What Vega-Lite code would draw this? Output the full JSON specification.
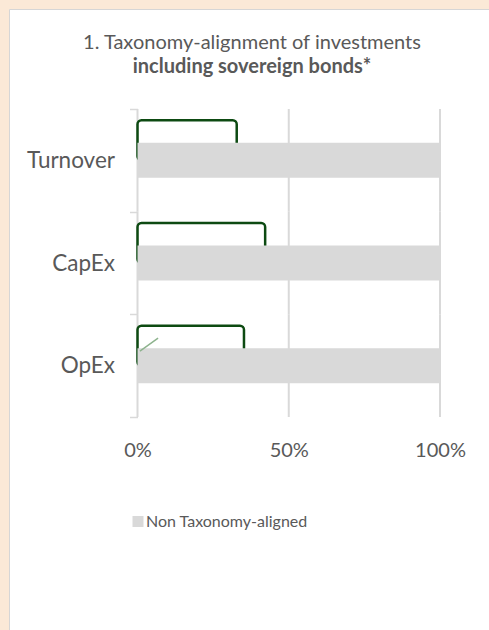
{
  "$schema": "https://vega.github.io/schema/vega-lite/v6.json",
  "width": 480,
  "height": 621,
  "autosize": {"type": "none"},
  "padding": {"left": 9, "top": 9, "right": 0, "bottom": 0},
  "background": "#FBE9D7",
  "config": {
    "font": "Lato",
    "view": {"fill": "#ffffff", "stroke": "#d6d6d6", "strokeWidth": 1}
  },
  "title": {
    "text": "1. Taxonomy-alignment of investments",
    "subtitle": "including sovereign bonds*",
    "font": "Lato",
    "fontSize": 20,
    "fontWeight": "normal",
    "color": "#595959",
    "subtitleFont": "Lato",
    "subtitleFontSize": 20,
    "subtitleFontWeight": "bold",
    "subtitleColor": "#595959",
    "subtitlePadding": 4,
    "anchor": "middle",
    "frame": "group",
    "offset": -79,
    "dx": 3
  },
  "data": {
    "values": [
      {"activity": "Turnover", "series": "Non Taxonomy-aligned", "value": 100, "bracket": 32.8},
      {"activity": "CapEx", "series": "Non Taxonomy-aligned", "value": 100, "bracket": 42.2},
      {"activity": "OpEx", "series": "Non Taxonomy-aligned", "value": 100, "bracket": 35.2}
    ]
  },
  "encoding": {
    "y": {
      "field": "activity",
      "type": "nominal",
      "sort": null,
      "scale": {"range": [100, 408], "paddingInner": 0, "paddingOuter": 0, "round": false},
      "axis": {
        "title": null,
        "offset": -128.5,
        "domain": false,
        "ticks": true,
        "tickBand": "extent",
        "tickSize": 8,
        "tickColor": "#d9d9d9",
        "tickWidth": 1.5,
        "labelFont": "Lato",
        "labelFontSize": 22.5,
        "labelColor": "#595959",
        "labelPadding": 15,
        "grid": false
      }
    }
  },
  "layer": [
    {
      "mark": {"type": "bar", "height": {"band": 1}, "fillOpacity": 0, "stroke": "#d9d9d9", "strokeWidth": 2},
      "encoding": {
        "x": {
          "datum": 0,
          "type": "quantitative",
          "scale": {"domain": [0, 100], "range": [128.5, 431], "nice": false, "zero": false},
          "axis": {
            "title": null,
            "orient": "bottom",
            "offset": -213,
            "values": [0, 50, 100],
            "labelExpr": "datum.value + '%'",
            "labelFlush": false,
            "labelBound": false,
            "labelOverlap": false,
            "domain": false,
            "ticks": false,
            "grid": false,
            "labelFont": "Lato",
            "labelFontSize": 20,
            "labelColor": "#595959",
            "labelPadding": 23
          }
        },
        "x2": {"datum": 0}
      }
    },
    {
      "mark": {"type": "bar", "height": {"band": 1}, "fillOpacity": 0, "stroke": "#d9d9d9", "strokeWidth": 2},
      "encoding": {
        "x": {"datum": 50, "type": "quantitative"},
        "x2": {"datum": 50}
      }
    },
    {
      "mark": {"type": "bar", "height": {"band": 1}, "fillOpacity": 0, "stroke": "#d9d9d9", "strokeWidth": 2},
      "encoding": {
        "x": {"datum": 100, "type": "quantitative"},
        "x2": {"datum": 100}
      }
    },
    {
      "mark": {"type": "bar", "height": 40, "yOffset": -20, "fillOpacity": 0, "stroke": "#0D4A12", "strokeWidth": 2.5, "cornerRadius": 4},
      "encoding": {
        "x": {"field": "bracket", "type": "quantitative"},
        "x2": {"datum": 0}
      }
    },
    {
      "mark": {"type": "bar", "height": 35},
      "encoding": {
        "x": {"field": "value", "type": "quantitative"},
        "color": {
          "field": "series",
          "type": "nominal",
          "scale": {"range": ["#d9d9d9"]},
          "legend": {
            "title": null,
            "orient": "none",
            "legendX": 121,
            "legendY": 504.5,
            "symbolType": "square",
            "symbolSize": 121,
            "symbolStrokeWidth": 0,
            "labelOffset": 0,
            "labelLimit": 400,
            "labelFont": "Lato",
            "labelFontSize": 16,
            "labelColor": "#595959"
          }
        }
      }
    },
    {
      "transform": [{"filter": "datum.activity === 'OpEx'"}],
      "mark": {"type": "rule", "color": "#8DB38D", "strokeWidth": 1.5, "yOffset": -14.5, "y2Offset": -27.5},
      "encoding": {
        "x": {"datum": 0.8, "type": "quantitative"},
        "x2": {"datum": 6.8},
        "y": {"field": "activity", "type": "nominal", "sort": null},
        "y2": {"field": "activity"}
      }
    }
  ]
}
